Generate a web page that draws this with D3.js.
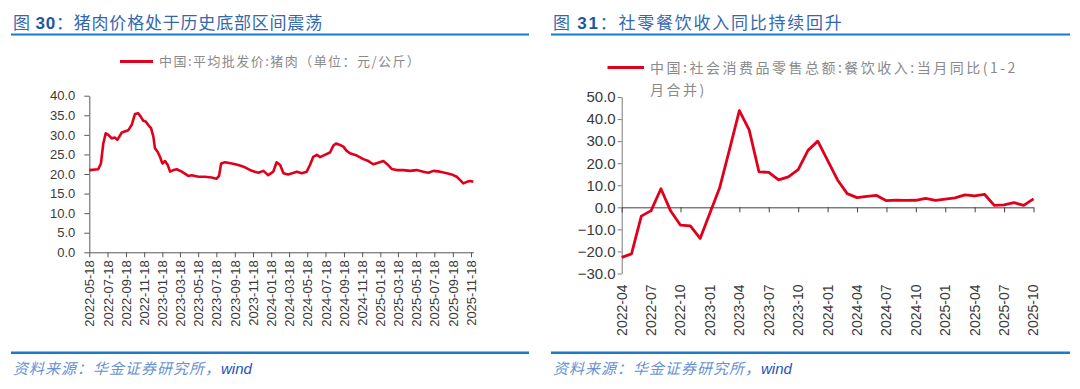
<!DOCTYPE html>
<html>
<head>
<meta charset="utf-8">
<script src="https://cdn.jsdelivr.net/npm/d3@7"></script>
<style>
  body { margin: 0; background: #fff; }
  svg { display: block; }
</style>
</head>
<body>
<div></div>
<script>
// left panel: pork wholesale price (yuan / kg)
const porkDates = [
  '2022-05-18', '2022-06-17', '2022-06-26', '2022-07-04', '2022-07-12', '2022-07-21',
  '2022-08-01', '2022-08-12', '2022-08-20', '2022-09-04', '2022-09-26', '2022-10-07',
  '2022-10-18', '2022-10-29', '2022-11-07', '2022-11-15', '2022-11-23', '2022-12-02',
  '2022-12-11', '2022-12-19', '2022-12-24', '2023-01-02', '2023-01-10', '2023-01-18',
  '2023-01-27', '2023-02-05', '2023-02-13', '2023-02-24', '2023-03-07', '2023-03-24',
  '2023-04-15', '2023-04-26', '2023-05-19', '2023-06-10', '2023-07-02', '2023-07-19',
  '2023-07-27', '2023-08-03', '2023-08-16', '2023-09-08', '2023-09-30', '2023-10-22',
  '2023-11-14', '2023-12-06', '2023-12-23', '2024-01-08', '2024-01-25', '2024-02-05',
  '2024-02-17', '2024-02-28', '2024-03-15', '2024-04-13', '2024-04-29', '2024-05-16',
  '2024-05-27', '2024-06-07', '2024-06-19', '2024-06-30', '2024-07-16', '2024-08-02',
  '2024-08-13', '2024-08-22', '2024-09-05', '2024-09-16', '2024-09-27', '2024-10-08',
  '2024-10-31', '2024-11-22', '2024-12-09', '2024-12-25', '2025-01-11', '2025-01-28',
  '2025-02-10', '2025-02-25', '2025-03-14', '2025-04-05', '2025-04-27', '2025-05-20',
  '2025-06-11', '2025-06-28', '2025-07-15', '2025-08-06', '2025-08-29', '2025-09-14',
  '2025-10-01', '2025-10-12', '2025-10-23', '2025-11-04', '2025-11-15', '2025-11-26',
];
const porkPrice = [
  21.0, 21.2, 22.7, 27.8, 30.4, 30.0,
  29.1, 29.3, 28.7, 30.6, 31.2, 32.5,
  35.3, 35.5, 34.6, 33.6, 33.4, 32.5,
  31.7, 29.5, 26.6, 25.7, 24.4, 22.7,
  23.3, 22.3, 20.6, 21.0, 21.2, 20.6,
  19.5, 19.7, 19.3, 19.3, 19.1, 18.8,
  19.5, 22.7, 23.0, 22.7, 22.3, 21.7,
  20.8, 20.3, 20.8, 19.7, 20.6, 23.0,
  22.3, 20.2, 19.9, 20.6, 20.2, 20.6,
  22.3, 24.4, 24.9, 24.3, 24.9, 25.5,
  27.2, 27.8, 27.4, 27.0, 25.9, 25.3,
  24.7, 23.8, 23.3, 22.5, 22.9, 23.3,
  22.5, 21.3, 21.0, 21.0, 20.8, 21.0,
  20.6, 20.3, 20.8, 20.6, 20.2, 19.9,
  19.3, 18.5, 17.6, 18.0, 18.2, 18.0,
];
const porkTicks = [
  '2022-05-18', '2022-07-18', '2022-09-18', '2022-11-18', '2023-01-18', '2023-03-18',
  '2023-05-18', '2023-07-18', '2023-09-18', '2023-11-18', '2024-01-18', '2024-03-18',
  '2024-05-18', '2024-07-18', '2024-09-18', '2024-11-18', '2025-01-18', '2025-03-18',
  '2025-05-18', '2025-07-18', '2025-09-18', '2025-11-18',
];
const porkYTicks = [0, 5, 10, 15, 20, 25, 30, 35, 40];

// right panel: catering revenue yoy (%), Jan merged into Feb
const months = [
  '2022-04', '2022-05', '2022-06', '2022-07', '2022-08', '2022-09', '2022-10', '2022-11', '2022-12',
  '2023-01', '2023-02', '2023-03', '2023-04', '2023-05', '2023-06', '2023-07', '2023-08', '2023-09',
  '2023-10', '2023-11', '2023-12', '2024-01', '2024-02', '2024-03', '2024-04', '2024-05', '2024-06',
  '2024-07', '2024-08', '2024-09', '2024-10', '2024-11', '2024-12', '2025-01', '2025-02', '2025-03',
  '2025-04', '2025-05', '2025-06', '2025-07', '2025-08', '2025-09', '2025-10',
];
const cateringYoy = [
  -22.7, -21.1, -4.0, -1.5, 8.4, -1.7, -8.1, -8.4, -14.1,
  null, 9.0, 26.3, 43.8, 35.1, 16.1, 15.8, 12.4, 13.8,
  17.1, 25.8, 30.0, null, 12.5, 6.2, 4.4, 5.0, 5.4,
  3.0, 3.3, 3.1, 3.2, 4.0, 3.1, null, 4.3, 5.6,
  5.2, 5.9, 0.9, 1.1, 2.1, 0.9, 3.8,
];
const monthTicks = [
  '2022-04', '2022-07', '2022-10', '2023-01', '2023-04', '2023-07', '2023-10', '2024-01',
  '2024-04', '2024-07', '2024-10', '2025-01', '2025-04', '2025-07', '2025-10',
];
const yoyTicks = [-30, -20, -10, 0, 10, 20, 30, 40, 50];

const w = 1080;
const h = 389;
const red = '#e0001b';
const blue = '#1b7cc3';
const cjk = '"Noto Sans CJK SC", "Noto Sans", sans-serif';
const latin = '"Liberation Sans", Arial, sans-serif';

const svg = d3
  .select('div')
  .append('svg')
  .attr('width', w)
  .attr('height', h);

// headers, rules and source lines for both panels
function frame(x0, x1, num, title, spacing) {
  const t = svg
    .append('text')
    .attr('x', x0 + 2)
    .attr('y', 29)
    .style('font-family', cjk)
    .style('font-size', '17px')
    .style('letter-spacing', spacing)
    .style('fill', '#3468ad');
  t.append('tspan').text('图 ');
  t.append('tspan').style('font-family', latin).style('font-weight', 'bold').style('fill', '#1f56a3').text(num);
  t.append('tspan').text('：' + title);

  svg.append('rect').attr('x', x0).attr('y', 33.5).attr('width', x1 - x0).attr('height', 2).attr('fill', blue);
  svg.append('rect').attr('x', x0).attr('y', 351.5).attr('width', x1 - x0).attr('height', 2.5).attr('fill', blue);

  const s = svg
    .append('text')
    .attr('x', x0 + 2)
    .attr('y', 374)
    .style('font-family', cjk)
    .style('font-size', '15px')
    .style('font-style', 'italic')
    .style('letter-spacing', '1px');
  s.append('tspan').style('fill', '#6692d3').text('资料来源：华金证券研究所，');
  s.append('tspan').style('fill', '#1d50b8').style('font-family', latin).style('letter-spacing', '0px').text('wind');
}

frame(11, 529, '30', '猪肉价格处于历史底部区间震荡', '0.8px');
frame(551, 1070, '31', '社零餐饮收入同比持续回升', '1.75px');

// ---------- left chart ----------
const parse = d3.timeParse('%Y-%m-%d');
const pork = porkDates.map((d, i) => ({ date: parse(d), value: porkPrice[i] }));

const xL = d3
  .scaleTime()
  .domain([parse('2022-05-18'), parse('2025-11-26')])
  .range([89.3, 473.4]);

const yL = d3.scaleLinear().domain([0, 40]).range([252.3, 95.7]);

const axL = svg
  .append('g')
  .attr('transform', 'translate(89.3,0)')
  .call(d3.axisLeft(yL).tickValues(porkYTicks).tickFormat(d3.format('.1f')).tickSize(5).tickSizeOuter(0));

const axB = svg
  .append('g')
  .attr('transform', 'translate(0,' + yL(0) + ')')
  .call(
    d3
      .axisBottom(xL)
      .tickValues(porkTicks.map(parse))
      .tickFormat(d3.timeFormat('%Y-%m-%d'))
      .tickSize(5)
      .tickSizeOuter(0)
  );

axB
  .selectAll('text')
  .attr('transform', 'rotate(-90)')
  .attr('text-anchor', 'end')
  .attr('x', -8)
  .attr('y', 0)
  .attr('dy', '0.35em');

[axL, axB].forEach((g) => {
  g.selectAll('text').style('font-family', latin).style('font-size', '13px').style('fill', '#3a3a3a');
  g.selectAll('path, line').attr('stroke', '#595959');
});
axL.selectAll('text').attr('x', -14);

svg
  .append('path')
  .datum(pork)
  .attr('fill', 'none')
  .attr('stroke', red)
  .attr('stroke-width', 2.6)
  .attr('stroke-linejoin', 'round')
  .attr('d', d3.line().x((d) => xL(d.date)).y((d) => yL(d.value)));

svg.append('line').attr('x1', 120).attr('x2', 153).attr('y1', 61.5).attr('y2', 61.5).attr('stroke', red).attr('stroke-width', 3);
svg
  .append('text')
  .attr('x', 159)
  .attr('y', 66)
  .style('font-family', cjk)
  .style('font-size', '13px')
  .style('letter-spacing', '1.45px')
  .style('fill', '#8a8a8a')
  .text('中国:平均批发价:猪肉（单位：元/公斤）');

// ---------- right chart ----------
const yoy = months.map((m, i) => ({ month: m, value: cateringYoy[i] })).filter((d) => d.value !== null);

const xR = d3.scalePoint().domain(months).range([621.7, 1033.5]);
const yR = d3.scaleLinear().domain([-30, 50]).range([273.5, 97]);

const axR = svg
  .append('g')
  .attr('transform', 'translate(621.7,0)')
  .call(d3.axisLeft(yR).tickValues(yoyTicks).tickFormat(d3.format('.1f')).tickSize(4).tickSizeOuter(0));

const axZ = svg
  .append('g')
  .attr('transform', 'translate(0,' + yR(0) + ')')
  .call(d3.axisBottom(xR).tickValues(monthTicks).tickFormat('').tickSize(5).tickSizeOuter(0));

axR.selectAll('text').style('font-family', latin).style('font-size', '15px').style('fill', '#3a3a3a').attr('x', -6);
axR.selectAll('path, line').attr('stroke', '#7a7a7a');
axZ.selectAll('path, line').attr('stroke', '#404040');

svg
  .append('g')
  .selectAll('text')
  .data(monthTicks)
  .enter()
  .append('text')
  .attr('transform', (d) => 'translate(' + xR(d) + ',' + (yR(-30) + 11) + ') rotate(-90)')
  .attr('text-anchor', 'end')
  .attr('dy', '0.35em')
  .style('font-family', latin)
  .style('font-size', '14px')
  .style('fill', '#3a3a3a')
  .text((d) => d);

svg
  .append('path')
  .datum(yoy)
  .attr('fill', 'none')
  .attr('stroke', red)
  .attr('stroke-width', 2.8)
  .attr('stroke-linejoin', 'round')
  .attr('d', d3.line().x((d) => xR(d.month)).y((d) => yR(d.value)));

svg.append('line').attr('x1', 607.5).attr('x2', 644).attr('y1', 67.5).attr('y2', 67.5).attr('stroke', red).attr('stroke-width', 3);
const lg = svg
  .append('text')
  .style('font-family', cjk)
  .style('font-size', '14px')
  .style('letter-spacing', '2.5px')
  .style('fill', '#8a8a8a');
lg.append('tspan').attr('x', 650).attr('y', 72.5).text('中国:社会消费品零售总额:餐饮收入:当月同比(1-2');
lg.append('tspan').attr('x', 650).attr('y', 94.5).text('月合并)');
</script>
</body>
</html>
